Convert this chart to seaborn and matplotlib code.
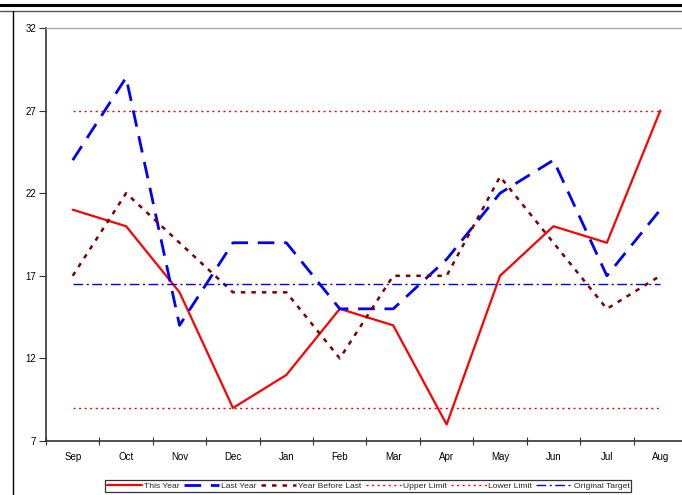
import matplotlib
matplotlib.use("Agg")
import matplotlib.pyplot as plt
from matplotlib.lines import Line2D
import seaborn as sns
import pandas as pd
import numpy as np

months = ["Sep", "Oct", "Nov", "Dec", "Jan", "Feb", "Mar", "Apr", "May", "Jun", "Jul", "Aug"]
this_year = [21, 20, 16, 9, 11, 15, 14, 8, 17, 20, 19, 27]
last_year = [24, 29, 14, 19, 19, 15, 15, 18, 22, 24, 17, 21]
year_before_last = [17, 22, 19, 16, 16, 12, 17, 17, 23, 19, 15, 17]
upper_limit = [27, 27, 27, 27, 27, 27, 27, 27, 27, 27, 27, 27]
lower_limit = [9, 9, 9, 9, 9, 9, 9, 9, 9, 9, 9, 9]
original_target = [16.5, 16.5, 16.5, 16.5, 16.5, 16.5, 16.5, 16.5, 16.5, 16.5, 16.5, 16.5]
y_ticks = [7, 12, 17, 22, 27, 32]

sns.set_theme(style="white")
plt.rcParams["font.family"] = ["Liberation Sans", "DejaVu Sans"]

fig = plt.figure(figsize=(6.82, 4.95), dpi=100)
ax = fig.add_axes([46 / 682, 1 - 441 / 495, 641 / 682, 413 / 495])

x = np.arange(len(months))
series = [
    ("This Year", this_year, dict(color="#ff0000", lw=1.6, ls="-")),
    ("Last Year", last_year, dict(color="#0000ff", lw=2.0, ls=(0, (6, 3.5)))),
    ("Year Before Last", year_before_last, dict(color="#800000", lw=1.8, ls=(0, (1.8, 2.4)))),
    ("Upper Limit", upper_limit, dict(color="#ff0000", lw=1.0, ls=(0, (1.5, 2.5)))),
    ("Lower Limit", lower_limit, dict(color="#ff0000", lw=1.0, ls=(0, (1.5, 2.5)))),
    ("Original Target", original_target, dict(color="#0000ff", lw=1.0, ls=(0, (7, 2.5, 1.5, 2.5)))),
]
handles = []
for name, vals, st in series:
    df = pd.DataFrame({"x": x, "y": vals})
    sns.lineplot(data=df, x="x", y="y", ax=ax, color=st["color"], linewidth=st["lw"],
                 linestyle=st["ls"], legend=False)
    handles.append(Line2D([0], [0], color=st["color"], lw=st["lw"], ls=st["ls"], label=name))

ax.set_xlim(-0.5, 11.5)
ax.set_ylim(7, 32)
ax.set_xticks(x)
ax.set_xticklabels(months)
ax.set_xticks(np.arange(-0.5, 12, 1), minor=True)
ax.set_yticks(y_ticks)
ax.set_xlabel("")
ax.set_ylabel("")
ax.tick_params(axis="x", which="major", length=0, labelsize=7, pad=8, colors="black")
ax.tick_params(axis="x", which="minor", length=6, width=0.8, direction="inout", bottom=True, color="#333333")
ax.tick_params(axis="y", which="major", length=5, width=0.8, direction="out", left=True,
               labelsize=7, colors="black", pad=2)
ax.tick_params(axis="y", color="#333333")

for s in ["left", "bottom"]:
    ax.spines[s].set_color("#333333")
    ax.spines[s].set_linewidth(1.2)
ax.spines["top"].set_color("#aaaaaa")
ax.spines["top"].set_linewidth(1.0)
ax.spines["right"].set_visible(False)

leg = fig.legend(handles=handles, loc="center", bbox_to_anchor=(368 / 682, 1 - 486 / 495),
                 ncol=6, fontsize=6.1, frameon=True, fancybox=False, handlelength=4.2,
                 handletextpad=0.2, columnspacing=0.5, borderpad=0.25, edgecolor="black")
leg.get_frame().set_linewidth(0.9)

# page / chart borders
fig.add_artist(Line2D([0, 1], [1 - 5 / 495, 1 - 5 / 495], color="black", lw=2.2))
fig.add_artist(Line2D([0, 1], [1 - 11 / 495, 1 - 11 / 495], color="#555555", lw=1.0))
fig.add_artist(Line2D([13 / 682, 13 / 682], [0, 1 - 11 / 495], color="black", lw=1.0))

fig.savefig("out.png", dpi=100)
